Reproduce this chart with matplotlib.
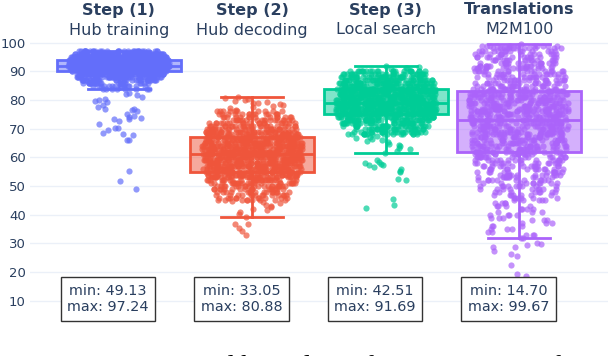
import numpy as np
import matplotlib.pyplot as plt
from matplotlib.transforms import blended_transform_factory

# headings of the four panels
steps = ["Step (1)", "Step (2)", "Step (3)", "Translations"]
names = ["Hub training", "Hub decoding", "Local search", "M2M100"]
colors = ["#636efa", "#ef553b", "#00cc96", "#ab63fa"]

# scores: sparse points one by one,
# the dense middle as counts of points per whole score

# Step (1) hub training
hub_training_single = [49.13, 51.8, 55.2, 65.9, 66.2, 67.8, 68.0, 68.5, 69.6, 70.1,
                       70.4, 71.5, 72.6, 73.3, 73.5, 73.8, 74.0, 74.4, 75.2, 76.1,
                       76.5, 76.8, 77.0, 77.6, 78.4, 79.3, 79.8, 80.1, 80.5, 81.2,
                       81.6, 82.0, 82.3, 97.24]
hub_training_scores = [84, 85, 86, 87, 88, 89, 90, 91, 92, 93, 94, 95, 96, 97]
hub_training_counts = [8, 14, 22, 32, 45, 65, 95, 115, 125, 125, 115, 100, 75, 30]

# Step (2) hub decoding
hub_decoding_single = [33.05, 34.3, 35.3, 36.6, 36.9, 39.2, 40.1, 40.8, 41.5, 42.0,
                       42.6, 43.1, 43.5, 44.0, 44.3, 44.7, 76.6, 77.2, 77.6, 77.9,
                       78.1, 78.5, 78.9, 79.0, 79.3, 79.6, 80.0, 80.3, 80.6, 80.88]
hub_decoding_scores = [45, 46, 47, 48, 49, 50, 51, 52, 53, 54, 55, 56, 57, 58, 59, 60,
                       61, 62, 63, 64, 65, 66, 67, 68, 69, 70, 71, 72, 73, 74, 75, 76]
hub_decoding_counts = [9, 10, 14, 15, 17, 21, 23, 25, 30, 31, 35, 36, 40, 41, 41, 44,
                       42, 43, 41, 42, 38, 37, 35, 31, 30, 25, 24, 19, 18, 14, 14, 10]

# Step (3) local search
local_search_single = [42.51, 43.5, 45.6, 52.1, 52.4, 54.8, 55.4, 55.9, 56.6, 57.2,
                       57.5, 57.8, 58.1, 58.4, 59.0, 61.6, 62.3, 62.9, 63.4, 63.8,
                       64.3, 64.7, 65.2, 65.6, 66.0, 66.4, 66.8, 67.2, 67.5, 90.8,
                       91.1, 91.3, 91.5, 91.69]
local_search_scores = [68, 69, 70, 71, 72, 73, 74, 75, 76, 77, 78, 79,
                       80, 81, 82, 83, 84, 85, 86, 87, 88, 89, 90]
local_search_counts = [16, 19, 23, 27, 31, 35, 39, 43, 46, 48, 50, 51,
                       51, 50, 48, 45, 44, 42, 40, 36, 32, 27, 22]

# Translations M2M100
m2m100_single = [14.70, 18.6, 19.2, 22.4, 25.7, 26.3, 27.4, 28.6, 28.9, 29.3,
                 29.8, 30.2, 99.67]
m2m100_scores = [32, 33, 34, 35, 36, 37, 38, 39, 40, 41, 42, 43, 44, 45, 46, 47,
                 48, 49, 50, 51, 52, 53, 54, 55, 56, 57, 58, 59, 60, 61, 62, 63,
                 64, 65, 66, 67, 68, 69, 70, 71, 72, 73, 74, 75, 76, 77, 78, 79,
                 80, 81, 82, 83, 84, 85, 86, 87, 88, 89, 90, 91, 92, 93, 94, 95,
                 96, 97, 98, 99]
m2m100_counts = [2, 3, 2, 3, 3, 3, 3, 3, 4, 3, 4, 4, 4, 5, 6, 7,
                 8, 9, 9, 10, 11, 11, 12, 12, 13, 13, 15, 15, 16, 16, 19, 20,
                 20, 21, 21, 21, 22, 22, 22, 23, 23, 23, 25, 25, 25, 25, 25, 25,
                 25, 25, 24, 22, 18, 18, 17, 17, 16, 16, 16, 15, 15, 15, 15, 14,
                 14, 14, 13, 12]

groups = [
    np.concatenate([hub_training_single, np.repeat(hub_training_scores, hub_training_counts)]),
    np.concatenate([hub_decoding_single, np.repeat(hub_decoding_scores, hub_decoding_counts)]),
    np.concatenate([local_search_single, np.repeat(local_search_scores, local_search_counts)]),
    np.concatenate([m2m100_single, np.repeat(m2m100_scores, m2m100_counts)]),
]
txt = "#2a3f5f"

fig = plt.figure(figsize=(6.08, 3.56), dpi=100)
ax = fig.add_axes([30 / 608, 1 - 320.8 / 356, 578 / 608, 281 / 356])
ax.set_xlim(-0.665, 3.665)
ax.set_ylim(3, 101)

bp = ax.boxplot(groups, positions=range(4), widths=0.93, capwidths=0.465,
                patch_artist=True, showfliers=False, whis=1.5, zorder=2)
for i, c in enumerate(colors):
    bp["boxes"][i].set(facecolor=c + "80", edgecolor=c, linewidth=2)
    bp["medians"][i].set(color=c, linewidth=2)
    for ln in bp["whiskers"][2 * i:2 * i + 2] + bp["caps"][2 * i:2 * i + 2]:
        ln.set(color=c, linewidth=2)

# points spread sideways by local density (like plotly's jitter);
# the sideways offsets come from a fixed hash so every run looks the same
for i, (vals, c) in enumerate(zip(groups, colors)):
    v = np.sort(vals.astype(float))
    near = np.array([(np.abs(v - y) <= 2.5).sum() for y in v])
    spread = 0.25 + 0.75 * (near / near.max()) ** 0.3
    k = np.arange(len(v)) + 1.0
    u = np.modf(np.sin(k * 12.9898 + i * 78.233) * 43758.5453)[0]
    ax.scatter(i + 0.38 * spread * u, v, s=20, color=c, alpha=0.7,
               linewidths=0, zorder=3)

ax.set_yticks(range(10, 101, 10))
ax.set_xticks([])
ax.tick_params(axis="y", length=0, pad=3, labelsize=9.5, labelcolor=txt)
ax.yaxis.grid(True, color="#ebf0f8", linewidth=1)
ax.set_axisbelow(True)
for s in ax.spines.values():
    s.set_visible(False)

tr = blended_transform_factory(ax.transData, fig.transFigure)
for i, vals in enumerate(groups):
    ax.text(i, 1 - 10 / 356, steps[i], transform=tr, ha="center", va="center",
            fontsize=11.5, fontweight="bold", color=txt)
    ax.text(i, 1 - 30 / 356, names[i], transform=tr, ha="center", va="center",
            fontsize=11.5, color=txt)
    ax.text(i - 0.08, 1 - 299 / 356,
            f"min: {vals.min():.2f}\nmax: {vals.max():.2f}",
            transform=tr, ha="center", va="center", fontsize=10.4, color=txt,
            linespacing=1.25, zorder=5,
            bbox=dict(boxstyle="square,pad=0.45", fc="white", ec="#333333", lw=1))

# the page caption under the figure, cut by the crop
fig.text(2 / 608, 1 - 374 / 356, "Figure 2: Scatter and box plots of Comet scores of",
         fontsize=20, family="Liberation Serif", ha="left", va="baseline")

fig.savefig("out.png", dpi=100)
